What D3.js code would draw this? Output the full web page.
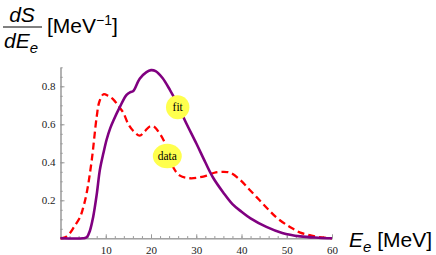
<!DOCTYPE html>
<html>
<head>
<meta charset="utf-8">
<script src="https://cdn.jsdelivr.net/npm/d3@7"></script>
<style>
  body { margin: 0; background: #fff; }
  svg { display: block; }
  .tick text { font-family: "Liberation Serif", "Times New Roman", serif; font-size: 11px; fill: #222; }
  .axis path, .axis line { stroke: #999; }
  .lbl { font-family: "Liberation Sans", Arial, sans-serif; fill: #000; }
</style>
</head>
<body>
<div id="chart"></div>
<script>
// spectrum readings, energy in MeV
const fitE = [0, 5, 5.8, 6.5, 7.2, 8, 8.7, 9.5, 10.2, 11, 11.7, 13.1, 14.6, 15.5, 16.1, 17.5, 19, 20, 21, 22.5, 24.2, 26, 27.5, 30, 32, 33.7, 36, 38, 40, 42, 45.5, 49, 53, 57, 60];
const fitS = [0, 0, 0.005, 0.04, 0.11, 0.23, 0.36, 0.45, 0.52, 0.58, 0.62, 0.69, 0.755, 0.77, 0.775, 0.84, 0.875, 0.885, 0.88, 0.845, 0.78, 0.70, 0.62, 0.50, 0.40, 0.32, 0.24, 0.18, 0.14, 0.105, 0.06, 0.028, 0.01, 0.003, 0];

const dataE = [0, 1, 2, 3, 4.3, 5, 5.8, 6.9, 8, 8.6, 9.5, 10.5, 11.7, 13, 13.9, 15, 16.1, 17.5, 18.5, 19.8, 20.5, 21.2, 22.7, 24, 25, 26.4, 28.6, 30.5, 32.3, 34, 36, 37.5, 39.6, 42, 44, 46, 47.7, 50, 51.4, 53, 55, 57, 60];
const dataS = [0, 0.005, 0.025, 0.06, 0.11, 0.16, 0.24, 0.41, 0.64, 0.72, 0.758, 0.75, 0.73, 0.69, 0.66, 0.6, 0.565, 0.54, 0.56, 0.59, 0.59, 0.575, 0.52, 0.44, 0.37, 0.33, 0.316, 0.32, 0.33, 0.345, 0.35, 0.345, 0.31, 0.25, 0.2, 0.15, 0.11, 0.07, 0.05, 0.03, 0.017, 0.007, 0];

const xTicks = [10, 20, 30, 40, 50, 60];
const yTicks = [0.2, 0.4, 0.6, 0.8];

// balloon labels: name, E, S, rx, ry
const balloons = [
    ['fit', 25.9, 0.69, 11.7, 12],
    ['data', 23.6, 0.433, 14.5, 12.2]
];

const width = 436, height = 255;

const svg = d3.select('#chart')
    .append('svg')
    .attr('width', width)
    .attr('height', height);

const x = d3.scaleLinear().domain([0, 60]).range([60.5, 332]);
const y = d3.scaleLinear().domain([0, 0.9]).range([238.3, 67.3]);

// minor ticks first
svg.append('g')
    .attr('class', 'axis')
    .attr('transform', `translate(0, ${y(0)})`)
    .call(d3.axisBottom(x).tickValues(d3.range(0, 61, 2)).tickSize(-2.2).tickSizeOuter(0).tickFormat(''));

svg.append('g')
    .attr('class', 'axis')
    .attr('transform', `translate(${x(0)}, 0)`)
    .call(d3.axisLeft(y).tickValues(d3.range(0, 0.91, 0.05)).tickSize(-2.2).tickSizeOuter(0).tickFormat(''));

svg.append('g')
    .attr('class', 'axis')
    .attr('transform', `translate(0, ${y(0)})`)
    .call(d3.axisBottom(x).tickValues(xTicks).tickSize(-4).tickSizeOuter(0).tickPadding(6))
    .call(g => g.selectAll('.tick text').attr('dy', '0.85em'));

svg.append('g')
    .attr('class', 'axis')
    .attr('transform', `translate(${x(0)}, 0)`)
    .call(d3.axisLeft(y).tickValues(yTicks).tickSize(-4).tickSizeOuter(0).tickPadding(5).tickFormat(d3.format('.1f')));

const line = d3.line()
    .x(d => x(d[0]))
    .y(d => y(d[1]))
    .curve(d3.curveCatmullRom.alpha(0.5));

svg.append('path')
    .datum(dataE.map((e, i) => [e, dataS[i]]))
    .attr('d', line)
    .attr('fill', 'none')
    .attr('stroke', '#ff0000')
    .attr('stroke-width', 2.3)
    .attr('stroke-dasharray', '7,4');

svg.append('path')
    .datum(fitE.map((e, i) => [e, fitS[i]]))
    .attr('d', line)
    .attr('fill', 'none')
    .attr('stroke', '#800080')
    .attr('stroke-width', 2.6);

const b = svg.selectAll('.balloon')
    .data(balloons)
    .enter()
    .append('g')
    .attr('transform', d => `translate(${x(d[1])}, ${y(d[2])})`);

b.append('ellipse')
    .attr('rx', d => d[3])
    .attr('ry', d => d[4])
    .attr('fill', '#ffff4d');

b.append('text')
    .attr('text-anchor', 'middle')
    .attr('dy', '0.35em')
    .style('font-family', '"Liberation Serif", serif')
    .style('font-size', '11.5px')
    .text(d => d[0]);

// y label: dS/dE_e [MeV^-1]
const yl = svg.append('g').attr('class', 'lbl');
yl.append('text')
    .attr('x', 22).attr('y', 21.5)
    .attr('text-anchor', 'middle')
    .style('font-size', '21px').style('font-style', 'italic')
    .text('dS');
yl.append('line')
    .attr('x1', 3).attr('x2', 42)
    .attr('y1', 27).attr('y2', 27)
    .attr('stroke', '#000').attr('stroke-width', 1);
const de = yl.append('text')
    .attr('x', 4).attr('y', 47.5)
    .style('font-size', '21px').style('font-style', 'italic');
de.append('tspan').text('dE');
de.append('tspan').attr('dy', 5).style('font-size', '15px').text('e');
const mev = yl.append('text')
    .attr('x', 47).attr('y', 33)
    .style('font-size', '21px');
mev.append('tspan').text('[MeV');
mev.append('tspan').attr('dy', -8).style('font-size', '14px').text('\u22121');
mev.append('tspan').attr('dy', 8).text(']');

// x label
const xl = svg.append('text')
    .attr('class', 'lbl')
    .attr('x', 349).attr('y', 246.5)
    .style('font-size', '21px');
xl.append('tspan').style('font-style', 'italic').text('E');
xl.append('tspan').attr('dy', 5).style('font-size', '15px').style('font-style', 'italic').text('e');
xl.append('tspan').attr('dy', -5).text(' [MeV]');
</script>
</body>
</html>
